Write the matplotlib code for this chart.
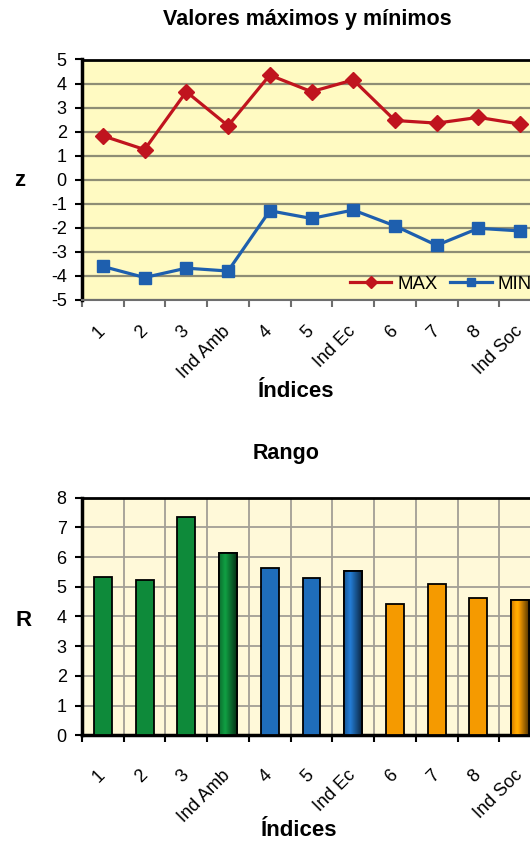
import numpy as np
import matplotlib.pyplot as plt
from matplotlib.colors import to_rgb

plt.rcParams['font.family'] = ['Liberation Sans', 'DejaVu Sans']
plt.rcParams['axes.unicode_minus'] = False

categorias = ['1', '2', '3', 'Ind Amb', '4', '5', 'Ind Ec', '6', '7', '8', 'Ind Soc']
z_max = [1.82, 1.25, 3.66, 2.24, 4.35, 3.66, 4.15, 2.46, 2.35, 2.59, 2.31]
z_min = [-3.62, -4.08, -3.69, -3.81, -1.30, -1.62, -1.27, -1.93, -2.74, -2.03, -2.14]
rango = [5.33, 5.24, 7.33, 6.15, 5.64, 5.29, 5.53, 4.41, 5.08, 4.61, 4.55]
grupo = ['amb', 'amb', 'amb', 'amb', 'ec', 'ec', 'ec', 'soc', 'soc', 'soc', 'soc']

colores = {'amb': '#0E8A3A', 'ec': '#1F6DBA', 'soc': '#F59A00'}
rojo = '#C0141E'
azul = '#1E5FAE'

W, H = 530, 841
fig = plt.figure(figsize=(W / 100, H / 100), dpi=100)


def caja(l, t, r, b):
    # rectangulo en pixeles -> fracciones de figura
    return [l / W, 1 - b / H, (r - l) / W, (b - t) / H]


def ejes_x(ax, pad):
    n = len(categorias)
    ax.set_xlim(-0.5, n - 0.5)
    ax.set_xticks(np.arange(-0.5, n, 1))
    ax.set_xticklabels([])
    ax.set_xticks(np.arange(n), minor=True)
    ax.set_xticklabels(categorias, minor=True, rotation=45, ha='right',
                       va='center', rotation_mode='anchor', fontsize=13)
    ax.tick_params(axis='x', which='minor', length=0, pad=pad)
    ax.tick_params(axis='x', which='major', direction='out', length=5, width=1.5)
    ax.tick_params(axis='y', direction='out', length=5, width=1.5, labelsize=13, pad=6)
    ax.spines['left'].set_linewidth(2.5)
    ax.spines['top'].set_linewidth(2)
    ax.spines['right'].set_linewidth(2)


x = np.arange(len(categorias))

# --- valores maximos y minimos ---
ax1 = fig.add_axes(caja(82, 59.5, 541, 299.6))
ax1.set_facecolor('#FFFAC2')
ax1.plot(x, z_max, color=rojo, lw=2.3, marker='D', ms=8, label='MAX', zorder=3)
ax1.plot(x, z_min, color=azul, lw=2.3, marker='s', ms=8.5, label='MIN', zorder=3)
ax1.set_ylim(-5, 5)
ax1.set_yticks(range(-5, 6))
ejes_x(ax1, 21)
ax1.yaxis.grid(True, color='#8E8D75', lw=1.6)
ax1.set_axisbelow(True)
ax1.spines['bottom'].set_color('#6E6E6E')
ax1.spines['bottom'].set_linewidth(1.5)
ax1.tick_params(axis='x', which='major', color='#6E6E6E')
ax1.legend(loc='center left', bbox_to_anchor=(0.583, 0.063), ncol=2, frameon=False,
           fontsize=13.4, handlelength=2.25, handletextpad=0.3, columnspacing=0.7,
           borderpad=0, borderaxespad=0, markerscale=0.75)

fig.text(307 / W, 1 - 20 / H, 'Valores máximos y mínimos', ha='center', va='center',
         fontsize=15.5, fontweight='bold')
fig.text(20 / W, 1 - 180 / H, 'z', ha='center', va='center', fontsize=16, fontweight='bold')
fig.text(296 / W, 1 - 392 / H, 'Índices', ha='center', va='center', fontsize=16,
         fontweight='bold')

# --- rango ---
ax2 = fig.add_axes(caja(82, 497.6, 541, 735.2))
ax2.set_facecolor('#FFF9D9')
barras = ax2.bar(x, rango, width=0.43, color=[colores[g] for g in grupo],
                 edgecolor='black', lw=1.3, zorder=3)

# los indices compuestos llevan sombreado cilindrico
sombra = np.concatenate([np.linspace(0.8, 1.15, 35), np.linspace(1.15, 0.35, 65)])
for nombre, g, b in zip(categorias, grupo, barras):
    if not nombre.startswith('Ind'):
        continue
    base = np.array(to_rgb(colores[g]))
    img = np.clip(base[None, None, :] * sombra[None, :, None], 0, 1)
    x0, y0 = b.get_x(), b.get_y()
    im = ax2.imshow(img, extent=(x0, x0 + b.get_width(), y0, y0 + b.get_height()),
                    aspect='auto', zorder=3.5, interpolation='bilinear')
    im.set_clip_path(b)
    ax2.bar(b.get_x() + b.get_width() / 2, b.get_height(), width=b.get_width(),
            fill=False, edgecolor='black', lw=1.3, zorder=4)

ax2.set_ylim(0, 8)
ax2.set_yticks(range(0, 9))
ejes_x(ax2, 27)
ax2.set_xlim(-0.5, len(categorias) - 0.5)
ax2.grid(True, which='major', color='#A39F96', lw=1.3)
ax2.set_axisbelow(True)
ax2.spines['bottom'].set_linewidth(2.5)

fig.text(286 / W, 1 - 454 / H, 'Rango', ha='center', va='center', fontsize=15.5,
         fontweight='bold')
fig.text(24 / W, 1 - 621 / H, 'R', ha='center', va='center', fontsize=16, fontweight='bold')
fig.text(299 / W, 1 - 831 / H, 'Índices', ha='center', va='center', fontsize=16,
         fontweight='bold')

fig.savefig('out.png', dpi=100, facecolor='white')
